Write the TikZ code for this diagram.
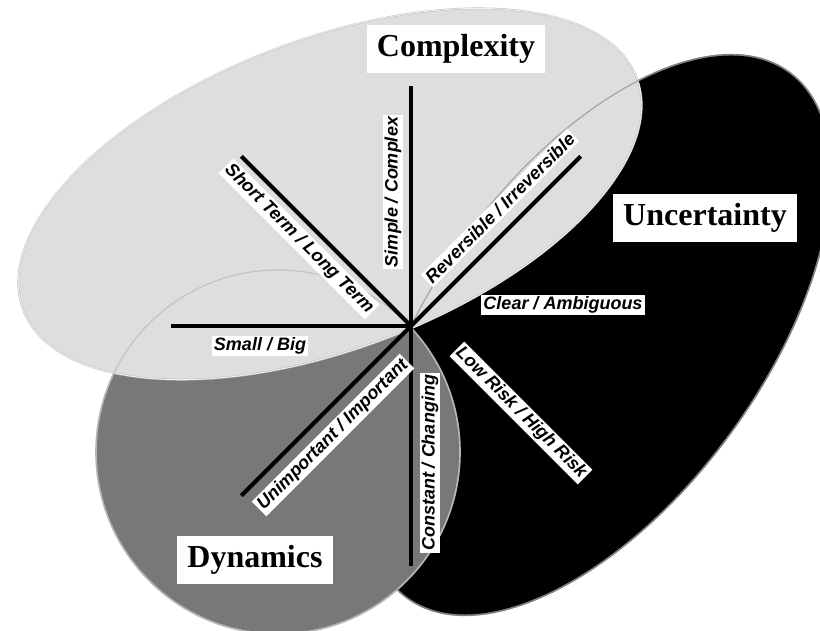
\documentclass[tikz,border=0pt]{standalone}
\usepackage{fontspec}
\setmainfont{Liberation Serif}
\setsansfont{Liberation Sans}
\usetikzlibrary{calc}

\begin{document}
\begin{tikzpicture}[x=1pt,y=1pt]
\tikzset{area/.style={line width=1.6pt},
		ghost/.style={line width=1.2pt, opacity=0.6},
		spoke/.style={line width=4pt},
		dim/.style={fill=white, inner sep=2pt, font=\fontsize{18}{20}\selectfont\sffamily\bfseries\itshape},
		head/.style={fill=white, inner xsep=10pt, minimum height=48pt, font=\fontsize{32}{36}\selectfont\bfseries}}
\useasboundingbox (0,0) rectangle (820,631);
\coordinate (O) at (411,305);
\coordinate (cU) at (598,296);
\coordinate (cD) at (278,179);
\coordinate (cC) at (330,437);
\filldraw[area, fill=black, draw=gray, rotate around={54:(cU)}] (cU) ellipse [x radius=325, y radius=165];
\filldraw[area, fill=black!53, draw=gray!55] (cD) circle [radius=182];
\filldraw[fill=black!13, draw=gray!50, double=gray!10, double distance=0.8pt, line width=0.5pt, rotate around={20.7:(cC)}] (cC) ellipse [x radius=328, y radius=155];
\draw[ghost, gray, rotate around={54:(cU)}] (cU) ellipse [x radius=325, y radius=165];
\draw[ghost, gray!60] (cD) circle [radius=182];
\foreach \a/\n in {90/sc, 135/sl, 180/sb, 225/ui, 270/cc, 45/ri}
	\coordinate (\n) at ($(O)+(\a:240)$);
\foreach \n in {sc, sl, sb, ui, cc, ri}
	\draw[spoke] (O) -- (\n);
\node[dim, rotate=90] (SC) at (393,439) {Simple / Complex};
\node[dim, rotate=-45] (SL) at (299,392) {Short Term / Long Term};
\node[dim, rotate=45] (RI) at (500,423) {Reversible / Irreversible};
\node[dim] (CA) at (563,326) {Clear / Ambiguous};
\node[dim, rotate=-45] (LH) at (521,218) {Low Risk / High Risk};
\node[dim, rotate=90] (CC) at (430,168) {Constant / Changing};
\node[dim, rotate=45] (UI) at (333,196) {Unimportant / Important};
\node[dim] (SB) at (260,285) {Small / Big};
\node[head] (Cx) at (456,582) {Complexity};
\node[head] (Un) at (705,413) {Uncertainty};
\node[head] (Dy) at (255,71) {Dynamics};
\end{tikzpicture}
\end{document}
